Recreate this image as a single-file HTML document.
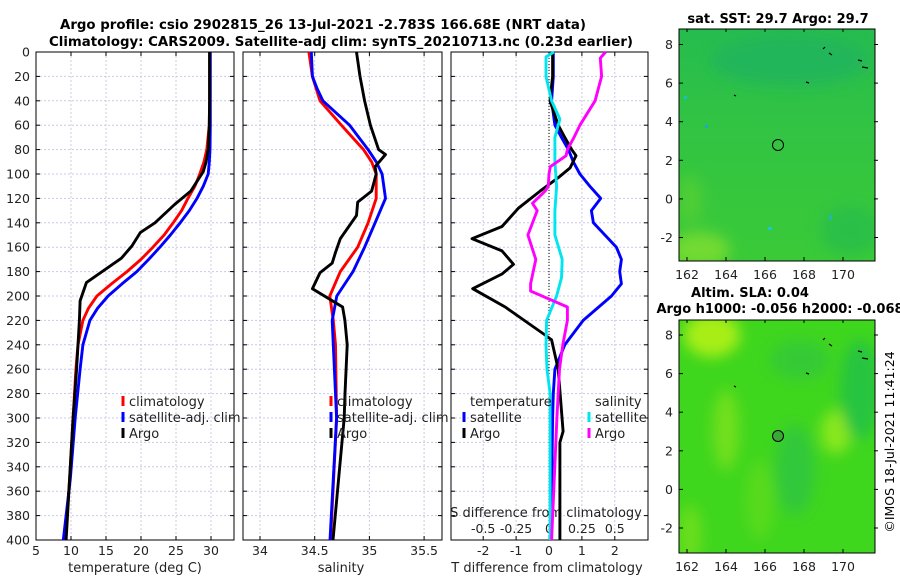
<!DOCTYPE html>
<html><head><meta charset="utf-8">
<style>
html,body{margin:0;padding:0;background:#fff;}
svg{display:block;font-family:"DejaVu Sans","Liberation Sans",sans-serif;}
</style></head>
<body>
<svg id="fig" width="900" height="580" viewBox="0 0 900 580" xmlns="http://www.w3.org/2000/svg">
<defs>
<linearGradient id="sstg" x1="0" y1="0" x2="0" y2="1">
<stop offset="0" stop-color="#26bc4e"/><stop offset="0.45" stop-color="#32c442"/><stop offset="1" stop-color="#3aca38"/>
</linearGradient>
<filter id="blur6"><feGaussianBlur stdDeviation="7"/></filter>
<clipPath id="clipTop"><rect x="679" y="29" width="196" height="232"/></clipPath>
<clipPath id="clipBot"><rect x="679" y="320" width="196" height="233"/></clipPath>
</defs>
<g id="titles">
<text x="323" y="29" text-anchor="middle" font-weight="bold" font-size="13" textLength="526" lengthAdjust="spacingAndGlyphs">Argo profile: csio 2902815_26 13-Jul-2021 -2.783S 166.68E (NRT data)</text>
<text x="341" y="46" text-anchor="middle" font-weight="bold" font-size="13" textLength="584" lengthAdjust="spacingAndGlyphs">Climatology: CARS2009. Satellite-adj clim: synTS_20210713.nc (0.23d earlier)</text>
</g>
<g id="p1"></g>
<g id="p2"></g>
<g id="p3"></g>
<g id="maps">
<text x="778" y="23" text-anchor="middle" font-weight="bold" font-size="13">sat. SST: 29.7 Argo: 29.7</text>
<g clip-path="url(#clipTop)">
<rect x="679" y="29" width="196" height="232" fill="url(#sstg)"/>
<g filter="url(#blur6)">
<ellipse cx="700" cy="250" rx="30" ry="18" fill="#72da30"/>
<ellipse cx="690" cy="200" rx="12" ry="25" fill="#50ce36"/>
<ellipse cx="850" cy="230" rx="30" ry="25" fill="#2cc046"/>
<ellipse cx="790" cy="60" rx="80" ry="25" fill="#22b65a"/>
</g>
<rect x="705" y="125" width="3" height="3" fill="#1fa9c8"/>
<rect x="768" y="227" width="4" height="3" fill="#18c8d8"/>
<rect x="829" y="215" width="3" height="5" fill="#20b8b0"/>
<rect x="684" y="96" width="3" height="3" fill="#18c0c8"/>
<circle cx="778" cy="145" r="5.5" fill="none" stroke="#000" stroke-width="1"/>
<path d="M823 49l2 -2 M829 53l3 2 M858 60l4 1 M862 67l6 1 M806 82l3 1 M734 95l2 1" stroke="#000" stroke-width="1.2" fill="none"/>
<rect x="874.5" y="29" width="3" height="232" fill="#fff"/>
</g>
<rect x="679" y="29" width="196" height="232" fill="none" stroke="#000" stroke-width="1"/>
<text x="750" y="297" text-anchor="middle" font-weight="bold" font-size="13">Altim. SLA: 0.04</text>
<text x="780" y="313" text-anchor="middle" font-weight="bold" font-size="13">Argo h1000: -0.056 h2000: -0.068</text>
<g clip-path="url(#clipBot)">
<rect x="679" y="320" width="196" height="233" fill="#3fd61e"/>
<g filter="url(#blur6)">
<ellipse cx="712" cy="335" rx="28" ry="22" fill="#a8ee14"/>
<ellipse cx="726" cy="430" rx="13" ry="40" fill="#72e01a"/>
<ellipse cx="836" cy="432" rx="15" ry="22" fill="#8ae81a"/>
<ellipse cx="690" cy="535" rx="12" ry="30" fill="#6ade1a"/>
<ellipse cx="860" cy="390" rx="20" ry="50" fill="#26c440"/>
<ellipse cx="795" cy="470" rx="20" ry="45" fill="#30c83a"/>
<ellipse cx="800" cy="360" rx="30" ry="20" fill="#34ca36"/>
<ellipse cx="760" cy="500" rx="14" ry="40" fill="#58da1c"/>
</g>
<circle cx="778" cy="436" r="5.5" fill="#3aa838" stroke="#000" stroke-width="1"/>
<path d="M823 340l2 -2 M829 344l3 2 M858 351l4 1 M862 358l6 1 M806 373l3 1 M734 386l2 1" stroke="#000" stroke-width="1.2" fill="none"/>
<rect x="874.5" y="320" width="3" height="233" fill="#fff"/>
</g>
<rect x="679" y="320" width="196" height="233" fill="none" stroke="#000" stroke-width="1"/>
</g>
<text transform="translate(894,442) rotate(-90)" text-anchor="middle" font-size="12.5">©IMOS 18-Jul-2021 11:41:24</text>
</svg>
<script>
// ---- data ----
const yTicks = [0,20,40,60,80,100,120,140,160,180,200,220,240,260,280,300,320,340,360,380,400];
const tempTicks = [5,10,15,20,25,30];
const salTicks = [34,34.5,35,35.5];
const salTickLabels = ["34","34.5","35","35.5"];
const tdTicks = [-2,-1,0,1,2];
const sdTicks = [-0.5,-0.25,0,0.25,0.5];
const sdTickLabels = ["-0.5","-0.25","0","0.25","0.5"];
const mapLonTicks = [162,164,166,168,170];
const mapLatTicks = [8,6,4,2,0,-2];

const tClimDepth = [0,20,40,60,80,90,100,110,120,130,140,150,160,170,180,190,200,210,220,240,260,300,350,400];
const tClimVal = [29.8,29.8,29.8,29.75,29.4,29.0,28.4,27.7,26.7,25.8,24.6,23.3,21.7,20.0,18.0,15.8,13.7,12.5,11.7,11.0,10.7,10.3,9.8,9.2];
const tSatDepth = [0,20,40,60,80,90,100,110,120,130,140,150,160,170,180,190,200,210,220,240,260,300,350,400];
const tSatVal = [29.9,29.9,29.9,29.9,29.85,29.75,29.6,28.9,28.0,26.9,25.6,24.2,22.7,21.1,19.4,17.3,15.3,13.8,12.7,11.7,11.3,10.6,9.9,8.9];
const tArgoDepth = [0,20,40,60,80,90,98,114,125,140,148,159,169,189,204,220,260,300,350,400];
const tArgoVal = [29.8,29.8,29.8,29.75,29.6,29.3,28.9,27.1,24.8,22.0,19.9,18.7,17.2,12.2,11.3,11.2,10.8,10.3,9.8,9.3];

const sClimDepth = [0,20,40,60,80,90,100,120,140,160,180,200,220,240,300,400];
const sClimVal = [34.447,34.479,34.548,34.744,34.946,35.02,35.062,35.062,34.988,34.893,34.734,34.638,34.67,34.69,34.70,34.645];
const sSatDepth = [0,20,30,40,60,80,90,100,120,140,160,180,200,220,240,300,400];
const sSatVal = [34.469,34.479,34.522,34.575,34.819,34.988,35.062,35.116,35.147,35.052,34.956,34.85,34.702,34.66,34.67,34.70,34.64];
const sArgoDepth = [0,20,40,60,80,84,94,100,114,123,134,153,164,173,181,194,209,220,240,280,300,400];
const sArgoVal = [34.882,34.914,34.956,35.009,35.084,35.147,35.052,35.062,35.02,34.893,34.882,34.734,34.691,34.66,34.548,34.479,34.755,34.776,34.797,34.777,34.77,34.667];

const dTSatDepth = [0,20,40,60,70,80,90,100,110,120,130,140,160,170,180,190,200,220,240,260,280,300,400];
const dTSatVal = [0.13,0.13,0.08,0.18,0.38,0.59,0.74,0.94,1.24,1.57,1.29,1.35,2.05,2.2,2.15,2.2,1.9,1.04,0.48,0.18,0.13,0.11,0.06];
const dTArgoDepth = [0,20,40,60,70,80,85,95,103,114,128,143,153,163,174,182,194,209,232,236,260,311,320,400];
const dTArgoVal = [0.11,0.11,0.03,0.28,0.48,0.69,0.82,0.64,0.28,-0.27,-0.93,-1.43,-2.34,-1.43,-1.08,-1.43,-2.32,-1.33,-0.12,0.08,0.28,0.43,0.33,0.33];
const dSSatDepth = [0,4,20,40,55,70,90,110,130,150,170,185,200,220,240,260,280,400];
const dSSatVal = [0.038,-0.023,-0.023,0.02,0.083,0.045,0.045,0.058,0.045,0.045,0.10,0.095,0.058,-0.018,-0.023,-0.015,0.008,0.008];
const dSArgoDepth = [0,5,20,40,60,70,80,85,94,100,110,114,124,130,150,170,190,196,209,220,240,260,300,400];
const dSArgoVal = [0.43,0.39,0.40,0.35,0.235,0.19,0.14,0.13,0.01,0.0,-0.005,-0.03,-0.125,-0.09,-0.16,-0.1,-0.14,-0.14,0.14,0.14,0.105,0.08,0.06,0.02];

// ---- axes ----
const NS = "http://www.w3.org/2000/svg";
const yTop = 52, yBot = 540;
function yScale(d){ return yTop + (d/400)*(yBot-yTop); }
function xTemp(t){ return 36 + (t-5)*7; }
function xSal(s){ return 260 + (s-34)*109.4; }
function xTd(v){ return 549 + v*32.9; }
function xSd(v){ return 549 + v*131.6; }
function lonX(l){ return 726 + (l-164)*19.5; }
function latTopY(l){ return 44.5 + (8-l)*19.3; }
function latBotY(l){ return 335 + (8-l)*19.3; }

function mk(tag, attrs, parent){
  const e = document.createElementNS(NS, tag);
  for (const k in attrs) e.setAttribute(k, attrs[k]);
  parent.appendChild(e);
  return e;
}
function txt(parent, x, y, s, size, anchor){
  const t = mk('text', {x:x, y:y, 'font-size':size, 'text-anchor':anchor||'middle', fill:'#222'}, parent);
  t.textContent = s;
  return t;
}

function frame(g, x0, x1, xticksPx){
  yTicks.forEach(d=>{
    const l = mk('line',{x1:x0,x2:x1,y1:yScale(d),y2:yScale(d),stroke:'#c8c8ee','stroke-width':1,'stroke-dasharray':'2,2'},g);
    
    
  });
  xticksPx.forEach(x=>{
    const l = mk('line',{x1:x,x2:x,y1:yTop,y2:yBot,stroke:'#d2c8e0','stroke-width':1,'stroke-dasharray':'2,2'},g);
    
    
  });
  yTicks.forEach(d=>{
    const y=yScale(d);
    mk('line',{x1:x0,x2:x0+4,y1:y,y2:y,stroke:'#000'},g);
    mk('line',{x1:x1-4,x2:x1,y1:y,y2:y,stroke:'#000'},g);
  });
  xticksPx.forEach(x=>{
    mk('line',{x1:x,x2:x,y1:yBot-4,y2:yBot,stroke:'#000'},g);
    mk('line',{x1:x,x2:x,y1:yTop,y2:yTop+4,stroke:'#000'},g);
  });
  const r = mk('rect',{x:x0,y:yTop,width:x1-x0,height:yBot-yTop,fill:'none',stroke:'#000','stroke-width':1},g);
  
  
}
function series(g, depths, vals, xf, color, name, width){
  const pts = depths.map((d,i)=> xf(vals[i]).toFixed(1)+','+yScale(d).toFixed(1)).join(' ');
  const p = mk('polyline',{points:pts,fill:'none',stroke:color,'stroke-width':width||2.9,'stroke-linejoin':'round'},g);
  
  
}
function legend(g, x, y, color, label){
  const b = mk('rect',{x:x-1.5,y:y-10,width:3,height:10,fill:color},g);
  
  
  const t = txt(g, x+6, y, label, 13, 'start');
  
  
}

// Panel 1
const p1 = document.getElementById('p1');
frame(p1, 36, 234, tempTicks.map(xTemp));
yTicks.forEach(d=>{
  const t = txt(p1, 30, yScale(d)+4.5, String(d), 12.5, 'end');
  
  
});
tempTicks.forEach(v=>{
  const t = txt(p1, xTemp(v), 555, String(v), 12.5);
  
  
});
const xt1 = txt(p1, 135, 572, 'temperature (deg C)', 13);


series(p1, tClimDepth, tClimVal, xTemp, '#ff0000', 'temperature-climatology-line');
series(p1, tSatDepth, tSatVal, xTemp, '#0000ff', 'temperature-satellite-line');
series(p1, tArgoDepth, tArgoVal, xTemp, '#000000', 'temperature-argo-line');
legend(p1, 123, 406, '#ff0000', 'climatology');
legend(p1, 123, 422, '#0000ff', 'satellite-adj. clim');
legend(p1, 123, 438, '#000000', 'Argo');

// Panel 2
const p2 = document.getElementById('p2');
frame(p2, 243, 442, salTicks.map(xSal));
salTicks.forEach((v,i)=>{
  const t = txt(p2, xSal(v), 555, salTickLabels[i], 12.5);
  
  
});
const xt2 = txt(p2, 341, 572, 'salinity', 13);


series(p2, sClimDepth, sClimVal, xSal, '#ff0000', 'salinity-climatology-line');
series(p2, sSatDepth, sSatVal, xSal, '#0000ff', 'salinity-satellite-line');
series(p2, sArgoDepth, sArgoVal, xSal, '#000000', 'salinity-argo-line');
legend(p2, 331, 406, '#ff0000', 'climatology');
legend(p2, 331, 422, '#0000ff', 'satellite-adj. clim');
legend(p2, 331, 438, '#000000', 'Argo');

// Panel 3
const p3 = document.getElementById('p3');
frame(p3, 451, 648, tdTicks.map(xTd));
const zl = mk('line',{x1:xTd(0),x2:xTd(0),y1:yTop,y2:yBot,stroke:'#000','stroke-width':1,'stroke-dasharray':'1,2'},p3);


tdTicks.forEach(v=>{
  const t = txt(p3, xTd(v), 555, String(v), 12.5);
  
  
});
sdTicks.forEach((v,i)=>{
  const t = txt(p3, xSd(v), 533, sdTickLabels[i], 12.5);
  
  
});
const xt3 = txt(p3, 547, 572, 'T difference from climatology', 13);


const xt3b = txt(p3, 546, 517, 'S difference from climatology', 13);


series(p3, dTSatDepth, dTSatVal, xTd, '#0000ff', 't-diff-satellite-line');
series(p3, dTArgoDepth, dTArgoVal, xTd, '#000000', 't-diff-argo-line');
series(p3, dSSatDepth, dSSatVal, xSd, '#00e5f0', 's-diff-satellite-line');
series(p3, dSArgoDepth, dSArgoVal, xSd, '#ff00ff', 's-diff-argo-line');
const lt = txt(p3, 470, 406, 'temperature', 13, 'start');


const ls = txt(p3, 595, 406, 'salinity', 13, 'start');


legend(p3, 464, 422, '#0000ff', 'satellite');
legend(p3, 464, 438, '#000000', 'Argo');
legend(p3, 589, 422, '#00e5f0', 'satellite');
legend(p3, 589, 438, '#ff00ff', 'Argo');

// Map ticks
const maps = document.getElementById('maps');
[[latTopY,261,29],[latBotY,553,320]].forEach(([yf,bot,top])=>{
  mapLatTicks.forEach(l=>{
    const y = yf(l);
    mk('line',{x1:679,x2:683,y1:y,y2:y,stroke:'#000'},maps);
    mk('line',{x1:874,x2:878,y1:y,y2:y,stroke:'#000'},maps);
    const t = txt(maps, 673, y+4.5, String(l), 12.5, 'end');
    
    
  });
  mapLonTicks.forEach(l=>{
    const x = lonX(l);
    mk('line',{x1:x,x2:x,y1:bot-4,y2:bot,stroke:'#000'},maps);
    mk('line',{x1:x,x2:x,y1:top,y2:top+3,stroke:'#000'},maps);
    const t = txt(maps, x, bot+18, String(l), 12.5);
    
    
  });
});
</script>
</body></html>
